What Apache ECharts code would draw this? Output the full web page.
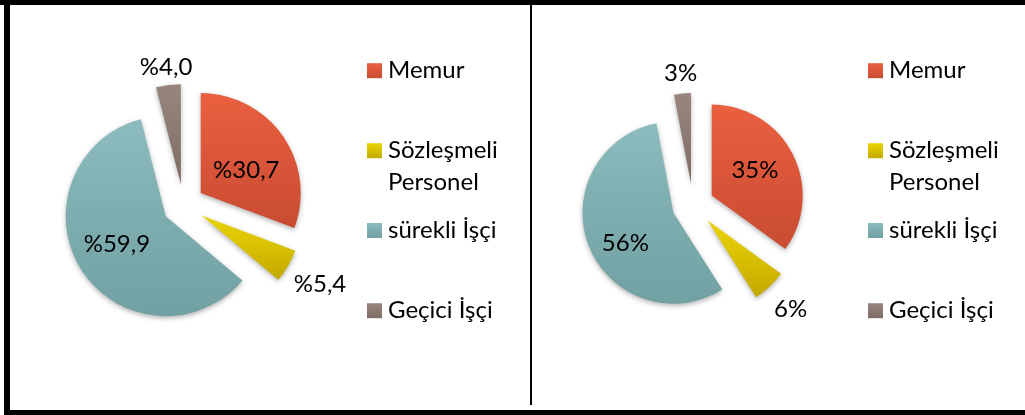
<!DOCTYPE html>
<html lang="tr">
<head>
<meta charset="UTF-8">
<title></title>
<script src="https://cdn.jsdelivr.net/npm/echarts@6/dist/echarts.min.js"></script>
<style>
    html, body { margin: 0; padding: 0; background: #fff; }
    #main { width: 1025px; height: 415px; }
</style>
</head>
<body>
<div id="main"></div>
<script>
// kategoriler ve oranlar
var categories = ['Memur', 'Sözleşmeli Personel', 'sürekli İşçi', 'Geçici İşçi'];
var leftValues = [30.7, 5.4, 59.9, 4.0];
var leftLabels = ['%30,7', '%5,4', '%59,9', '%4,0'];
var rightValues = [35, 6, 56, 3];
var rightLabels = ['35%', '6%', '56%', '3%'];

var colors = [
    ['#EA6040', '#DA5539', '#C84C32'],
    ['#EAD308', '#D8C000', '#C2A800'],
    ['#8CBCBE', '#7DADAF', '#71A1A3'],
    ['#98867E', '#8C7A72', '#7E6C64']
];

var FONT = 'Lato';
var FSIZE = 24;
var OFFSET = 21;

// ic etiketler: kaydirma (px); dis etiketler: merkezden uzaklik (px)
var leftPlace = [[2, 7], 158, [-4, 0], 139];
var rightPlace = [[0, -3], 142.5, [-3, 13], 132.4];

var ctx = document.createElement('canvas').getContext('2d');
ctx.font = FSIZE + 'px ' + FONT;
function textW(s) { return ctx.measureText(s).width; }

function grad(c) {
    return {
        type: 'linear', x: 0, y: 0, x2: 0, y2: 1,
        colorStops: [{offset: 0, color: c[0]}, {offset: 0.5, color: c[1]}, {offset: 1, color: c[2]}]
    };
}

function buildData(values, labels, place, r) {
    var out = [];
    for (var i = 0; i < values.length; i++) {
        var item = {
            name: categories[i],
            value: values[i],
            selected: true,
            itemStyle: { color: grad(colors[i]) }
        };
        var p = place[i];
        if (typeof p === 'number') {
            // dilimin disinda, orta aci uzerinde
            item.label = {
                formatter: labels[i],
                position: 'outside',
                distanceToLabelLine: -textW(labels[i]) / 2
            };
            item.labelLine = { show: false, length: p - OFFSET - r, length2: 0 };
        } else {
            var dx = p[0], dy = p[1];
            var txt = labels[i];
            if (dy < 0) txt = txt + '\n';
            if (dy > 0) txt = '\n' + txt;
            item.label = {
                formatter: txt,
                position: 'inside',
                lineHeight: dy === 0 ? 26 : Math.abs(dy) * 2,
                padding: [0, Math.max(0, -2 * dx), 0, Math.max(0, 2 * dx)]
            };
        }
        out.push(item);
    }
    return out;
}

function pieSeries(center, radius, values, labels, place) {
    return {
        type: 'pie',
        center: center,
        radius: radius,
        startAngle: 90,
        clockwise: true,
        selectedMode: 'multiple',
        selectedOffset: OFFSET,
        avoidLabelOverlap: false,
        emphasis: { disabled: true },
        itemStyle: {
            shadowBlur: 5,
            shadowOffsetY: 2,
            shadowColor: 'rgba(0,0,0,0.3)'
        },
        label: {
            show: true,
            color: '#000',
            fontFamily: FONT,
            fontSize: FSIZE
        },
        labelLine: { show: false },
        data: buildData(values, labels, place, radius)
    };
}

// her lejant kalemi ayri konumlanir
var legendTops = [70.7, 150.7, 230.5, 310.7];
function buildLegends(left) {
    var out = [];
    for (var i = 0; i < categories.length; i++) {
        var twoLine = i === 1;
        out.push({
            data: [categories[i]],
            left: left,
            top: twoLine ? legendTops[i] - 48 : legendTops[i] - 16,
            padding: 0,
            itemWidth: 15,
            itemHeight: 15,
            icon: 'rect',
            selectedMode: false,
            formatter: function (name) {
                return name === 'Sözleşmeli Personel' ? '\nSözleşmeli\nPersonel' : name;
            },
            textStyle: {
                color: '#000',
                fontFamily: FONT,
                fontSize: FSIZE,
                lineHeight: 32,
                padding: [0, 0, 0, 1]
            }
        });
    }
    return out;
}

var myChart = echarts.init(document.getElementById('main'));

var option = {
    animation: false,
    backgroundColor: '#fff',
    legend: buildLegends(367).concat(buildLegends(868)),
    series: [
        pieSeries([183.5, 205], 100, leftValues, leftLabels, leftPlace),
        pieSeries([693, 205], 91, rightValues, rightLabels, rightPlace)
    ],
    graphic: [
        { type: 'rect', shape: { x: 0, y: 0, width: 1025, height: 5 }, style: { fill: '#000' } },
        { type: 'rect', shape: { x: 4, y: 0, width: 6, height: 415 }, style: { fill: '#000' } },
        { type: 'rect', shape: { x: 4, y: 410, width: 1021, height: 5 }, style: { fill: '#000' } },
        { type: 'rect', shape: { x: 530, y: 0, width: 2, height: 405 }, style: { fill: '#000' } }
    ]
};

myChart.setOption(option);
</script>
</body>
</html>
